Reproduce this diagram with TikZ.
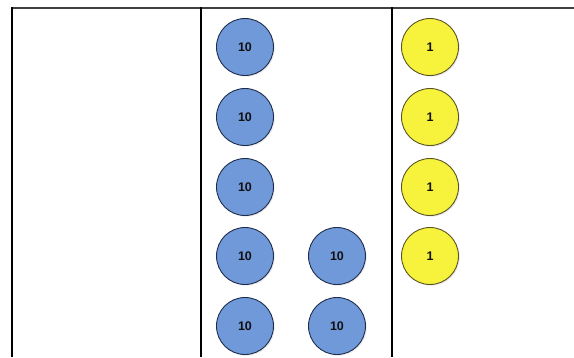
\documentclass[tikz,border=0pt]{standalone}
\usepackage{fontspec}
\setmainfont{Liberation Sans}
\usepackage{xcolor}
\usepackage{tikz}
\usetikzlibrary{shadows}
\definecolor{TenBlue}{HTML}{7099DA}
\definecolor{TenEdge}{HTML}{1E2C4C}
\definecolor{OneYellow}{HTML}{F7F23C}
\definecolor{OneEdge}{HTML}{5A5422}
\definecolor{RuleGray}{HTML}{404040}
\definecolor{TextDark}{HTML}{111111}

\tikzset{
  chip/.style={circle, minimum size=57pt, inner sep=0pt, line width=0.9pt,
    text=TextDark, font=\bfseries\fontsize{12.5}{13}\selectfont,
    drop shadow={opacity=0.18, shadow xshift=1.2pt, shadow yshift=-1.2pt}},
  tenchip/.style={chip, draw=TenEdge, fill=TenBlue},
  onechip/.style={chip, draw=OneEdge, fill=OneYellow},
}

\begin{document}
\begin{tikzpicture}[x=1pt, y=-1pt]
        \useasboundingbox (0,0) rectangle (574,357);
        % place-value table
        \draw[RuleGray, line width=2pt] (11,7.5) -- (574,7.5);
        \draw[black, line width=1.6pt] (11.8,7) -- (11.8,357);
        \draw[black, line width=1.5pt] (201,7) -- (201,357);
        \draw[black, line width=1.5pt] (392,7) -- (392,357);
        % tens
        \foreach \y [count=\i] in {47,117,187,256,326}
          \node[tenchip] (tenA\i) at (245,\y) {10};
        \node[tenchip] (tenB1) at (337,256) {10};
        \node[tenchip] (tenB2) at (337,326) {10};
        % ones
        \foreach \y [count=\i] in {47,117,187,256}
          \node[onechip] (one\i) at (430,\y) {1};
      \end{tikzpicture}
\end{document}
